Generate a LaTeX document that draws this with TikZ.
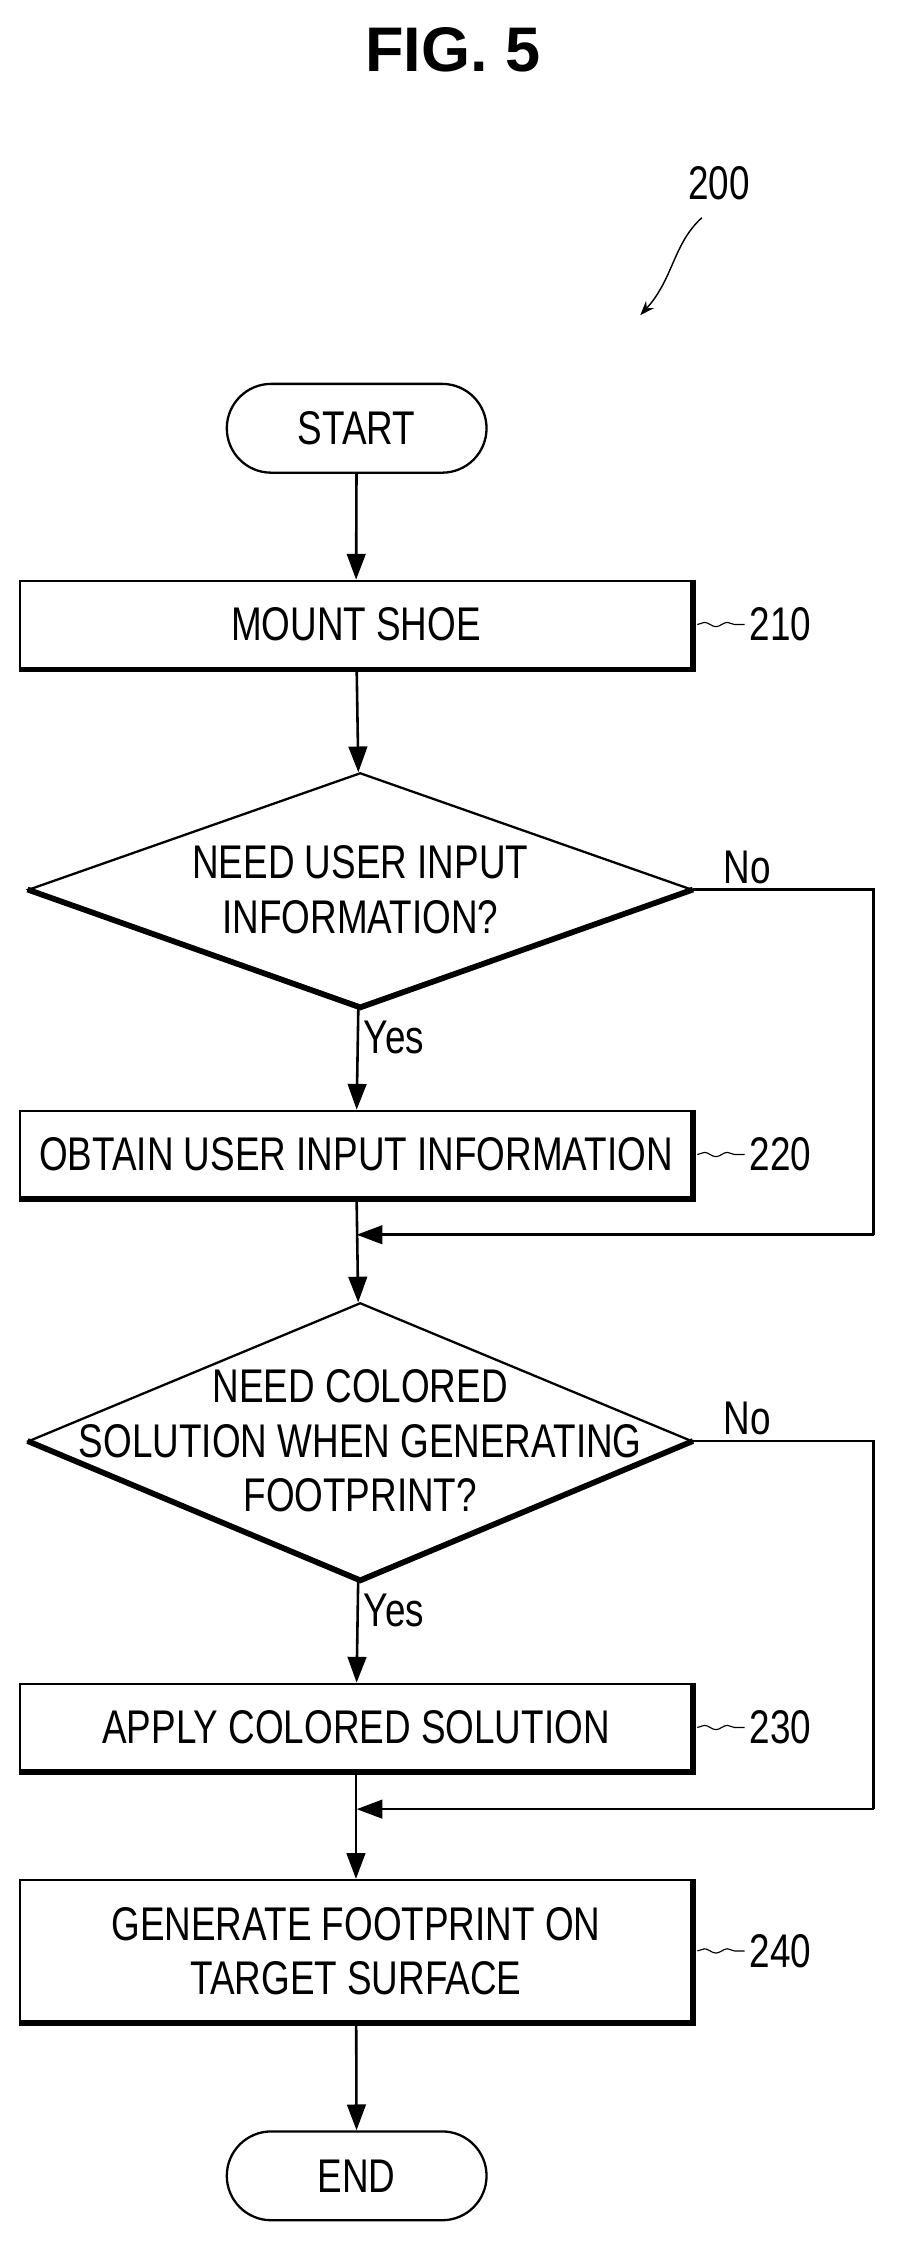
\documentclass[tikz,border=0pt]{standalone}
\usepackage{fontspec}
\setmainfont{Liberation Sans}[FakeStretch=0.78]
\newfontfamily\titlefont{Liberation Sans}
\usetikzlibrary{shapes.geometric,shapes.misc,arrows.meta,decorations.pathmorphing}
\tikzset{
  flow/.style={line width=1.8pt,-{Triangle[length=18pt,width=13pt]}},
  stepbox/.style={draw,line width=1.6pt,minimum width=469pt,minimum height=61pt,align=center},
  termbox/.style={draw,line width=1.6pt,rounded rectangle,minimum width=188pt,minimum height=62pt},
  decide/.style={draw,line width=1.6pt,diamond,aspect=2.84,minimum width=463pt,minimum height=163pt,inner sep=0pt},
  decidetext/.style={align=center},
  reflabel/.style={anchor=west},
  tick/.style={decorate,decoration={snake,amplitude=1.5pt,segment length=16pt},line width=0.8pt}
}
\newcommand{\heavyedge}[1]{\draw[line width=4pt] (#1.north east) -- (#1.south east) -- (#1.south west);}
\begin{document}
\begin{tikzpicture}[x=1pt,y=-1pt,font=\fontsize{33}{38}\selectfont]
  \useasboundingbox (0,0) rectangle (627,1568);
  \node[font=\titlefont\fontsize{44}{48}\selectfont\bfseries] (fig) at (316,35) {FIG. 5};
  \node (ref200) at (502,128) {200};
  \coordinate (r200a) at (490,152);
  \coordinate (r200b) at (447,220);
  \draw[line width=1pt,-{Stealth[length=10pt]}] (r200a) .. controls (470,170) and (470,195) .. (r200b);

  \node[termbox] (start) at (249,299) {START};
  \node[stepbox] (mount) at (248.5,436) {MOUNT SHOE};
  \node[decide] (needuser) at (251.5,621) {};
  \node[decidetext] (needusertext) at (needuser) {NEED USER INPUT\\INFORMATION?};
  \node[stepbox] (obtain) at (248.5,806) {OBTAIN USER INPUT INFORMATION};
  \node[decide,minimum height=193pt] (needcolor) at (251.5,1006) {};
  \node[decidetext] (needcolortext) at (needcolor) {NEED COLORED\\SOLUTION WHEN GENERATING\\FOOTPRINT?};
  \node[stepbox] (apply) at (248.5,1206) {APPLY COLORED SOLUTION};
  \node[stepbox,minimum height=99pt] (generate) at (248.5,1362) {GENERATE FOOTPRINT ON\\TARGET SURFACE};
  \node[termbox] (end) at (249,1519) {END};

  % heavier lower and right edges
  \heavyedge{mount}
  \heavyedge{obtain}
  \heavyedge{apply}
  \heavyedge{generate}
  \draw[line width=4pt] (needuser.west) -- (needuser.south) -- (needuser.east);
  \draw[line width=4pt] (needcolor.west) -- (needcolor.south) -- (needcolor.east);

  % reference numerals
  \foreach \b/\t in {mount/210,obtain/220,apply/230,generate/240}{
    \draw[tick] (\b.east) ++(3,0) -- ++(33,0) node[reflabel] {\t};
  }

  \coordinate (join1) at (249,862);
  \coordinate (join2) at (249,1263);
  \coordinate (side1) at (610,621);
  \coordinate (side2) at (610,1006);

  \draw[flow] (start) -- (mount);
  \draw[flow] (mount) -- (needuser);
  \draw[flow] (needuser) -- node[right,pos=0.3] {Yes} (obtain);
  \draw[flow] (obtain) -- (needcolor);
  \draw[line width=1.8pt] (needuser.east) -- node[above,pos=0.3] {No} (side1) |- (610,862);
  \draw[flow] (610,862) -- (join1);
  \draw[flow] (needcolor) -- node[right,pos=0.3] {Yes} (apply);
  \draw[flow] (apply) -- (generate);
  \draw[line width=1.8pt] (needcolor.east) -- node[above,pos=0.3] {No} (side2) |- (610,1263);
  \draw[flow] (610,1263) -- (join2);
  \draw[flow] (generate) -- (end);
\end{tikzpicture}
\end{document}
